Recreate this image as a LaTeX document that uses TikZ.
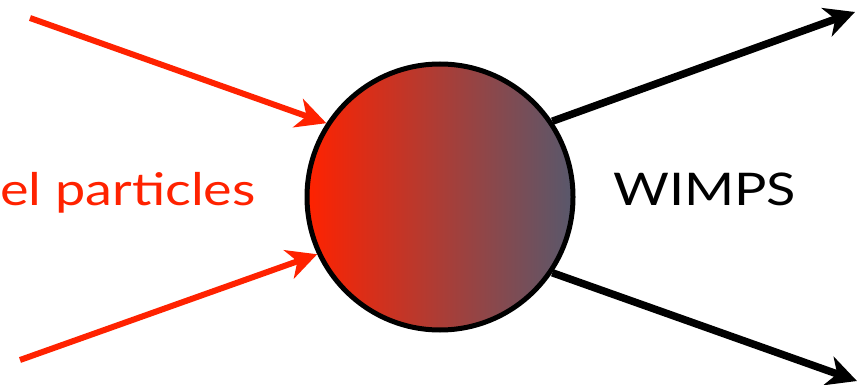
\documentclass[tikz,border=0pt]{standalone}
\usepackage{fontspec}
\setmainfont{Lato}
\usetikzlibrary{arrows.meta}

\definecolor{smred}{RGB}{255,34,0}
\definecolor{midred}{RGB}{192,46,44}
\definecolor{wimpgray}{RGB}{88,88,108}

\begin{document}
\begin{tikzpicture}[x=1pt, y=-1pt]
  \tikzset{blob/.style={circle, draw=black, line width=5pt, minimum size=266pt, inner sep=0pt, left color=smred, middle color=midred, right color=wimpgray},
    inarr/.style={smred, line width=6pt, -{Stealth[length=30pt, width=30pt, inset=9pt]}},
    outarr/.style={black, line width=7.5pt, -{Stealth[length=30pt, width=30pt, inset=9pt]}},
    lbl/.style={anchor=base west, inner sep=0pt, font=\fontsize{45}{50}\selectfont, xscale=1.2}}
  \useasboundingbox (0,0) rectangle (859,385);
  \node[blob] (vertex) at (440,197) {};
  \node[lbl, text=smred] (sm) at (0,205) {el particles};
  \node[lbl] (wimps) at (613,205) {WIMPS};
  \coordinate (inA) at (30,18);
  \coordinate (inB) at (20,360);
  \coordinate (outA) at (855,12);
  \coordinate (outB) at (857,381);
  \draw[inarr] (inA) -- (vertex.147);
  \draw[inarr] (inB) -- (vertex.205);
  \draw[outarr] (vertex.34) -- (outA);
  \draw[outarr] (vertex.-34) -- (outB);
\end{tikzpicture}
\end{document}
